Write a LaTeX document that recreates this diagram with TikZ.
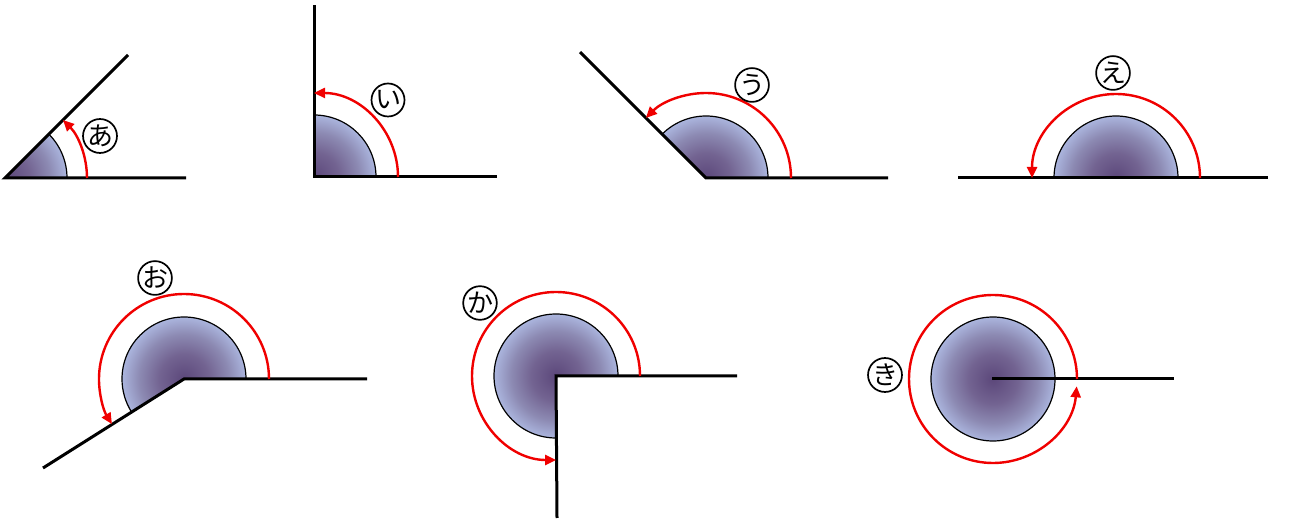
\documentclass[tikz,border=0pt]{standalone}
\usepackage{fontspec}
\newfontfamily\jpfont{Noto Sans CJK JP}
\usetikzlibrary{arrows.meta,calc}
\definecolor{arcred}{RGB}{240,0,0}
\pgfdeclareradialshading{ballshade}{\pgfpoint{0bp}{0bp}}{%
  rgb(0bp)=(0.36,0.28,0.48);
  rgb(10bp)=(0.45,0.39,0.57);
  rgb(18bp)=(0.55,0.54,0.70);
  rgb(25bp)=(0.67,0.71,0.87);
  rgb(50bp)=(0.67,0.71,0.87)}
\tikzset{
  ray/.style={line width=3pt,line join=miter},
  sectorline/.style={line width=1.2pt},
  redarc/.style={draw=arcred,line width=2.4pt,-{Triangle[length=11pt,width=10pt]}},
  lab/.style={circle,draw,line width=1.7pt,minimum size=33pt,inner sep=0pt,font=\jpfont\fontsize{26}{26}\selectfont},
  ball/.style={shading=ballshade}
}
\newcommand{\mysector}[3]{% vertex, start, end
  \begin{scope}
    \clip (#1) -- ($(#1)+(#2:62pt)$) arc (#2:#3:62pt) -- cycle;
    \shade[ball] (#1) circle (62pt);
  \end{scope}
  \draw[sectorline] (#1) -- ($(#1)+(#2:62pt)$) arc (#2:#3:62pt) -- cycle;
}
\begin{document}
\begin{tikzpicture}[x=1pt,y=1pt]
\useasboundingbox[fill=white] (0,0) rectangle (1305,519);
% A
\coordinate (va) at (5,341);
\coordinate (a1) at (186,341);
\coordinate (a2) at (128,464);
\mysector{va}{0}{45}
\draw[ray] (a1) -- (va) -- (a2);
\draw[redarc] ($(va)+(0:82pt)$) arc (0:45:82pt);
\node[lab] (la) at (100,383) {あ};
% I
\coordinate (vb) at (314,342);
\coordinate (b1) at (497,342);
\coordinate (b2) at (314,514);
\mysector{vb}{0}{90}
\draw[ray] (b1) -- (vb) -- (b2);
\draw[redarc] ($(vb)+(0:84pt)$) arc (0:90:84pt);
\node[lab] (lb) at (388,419) {い};
% U
\coordinate (vc) at (706,341);
\coordinate (c1) at (888,341);
\coordinate (c2) at (580,467);
\mysector{vc}{0}{135}
\draw[ray] (c1) -- (vc) -- (c2);
\draw[redarc] ($(vc)+(0:85pt)$) arc (0:135:85pt);
\node[lab] (lc) at (752,434) {う};
% E
\coordinate (vd) at (1116,341);
\coordinate (d1) at (1268,341);
\coordinate (d2) at (958,341);
\mysector{vd}{0}{180}
\draw[ray] (d1) -- (vd) -- (d2);
\draw[redarc] ($(vd)+(0:84pt)$) arc (0:180:84pt);
\node[lab] (ld) at (1113,446) {え};
% O
\coordinate (ve) at (184,140);
\coordinate (e1) at (367,140);
\coordinate (e2) at (43,51);
\mysector{ve}{0}{212}
\draw[ray] (e1) -- (ve) -- (e2);
\draw[redarc] ($(ve)+(0:85pt)$) arc (0:212:85pt);
\node[lab] (le) at (155,241) {お};
% KA
\coordinate (vf) at (556,143);
\coordinate (f1) at (737,143);
\coordinate (f2) at (557,1);
\mysector{vf}{0}{270}
\draw[ray] (f1) -- (vf) -- (f2);
\draw[redarc] ($(vf)+(0:84pt)$) arc (0:270:84pt);
\node[lab] (lf) at (480,216) {か};
% KI
\coordinate (vg) at (993,140);
\coordinate (g0) at (992,140);
\coordinate (g1) at (1174,140);
\shade[ball] (vg) circle (62pt);
\draw[sectorline] (vg) circle (62pt);
\draw[ray] (g0) -- (g1);
\draw[redarc] ($(vg)+(0:84pt)$) arc (0:355:84pt);
\node[lab] (lg) at (885,144) {き};
\end{tikzpicture}
\end{document}
